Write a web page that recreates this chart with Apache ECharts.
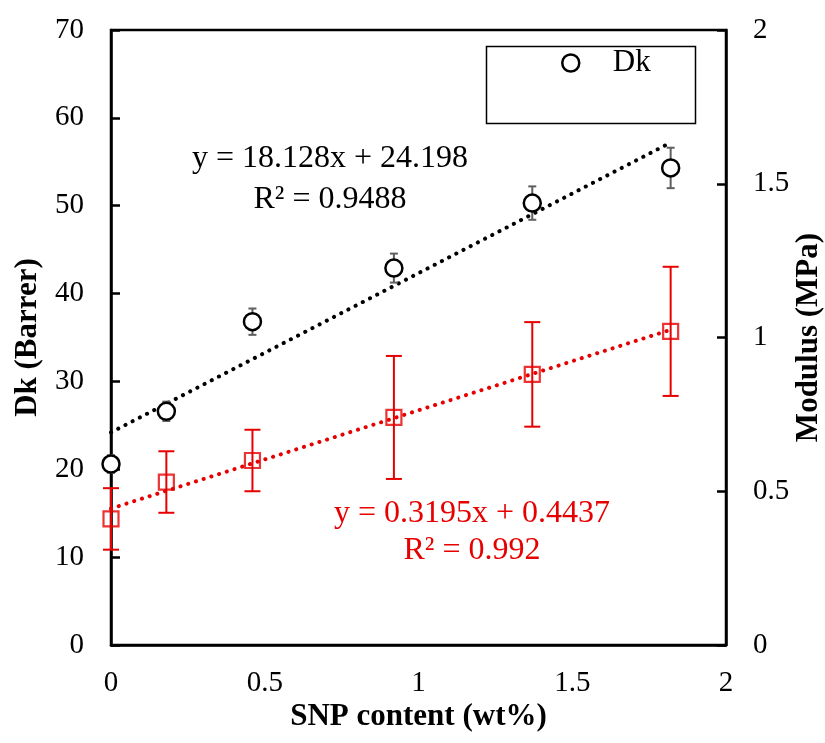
<!DOCTYPE html>
<html>
<head>
<meta charset="utf-8">
<script src="https://cdn.jsdelivr.net/npm/echarts@6/dist/echarts.min.js"></script>
<style>
  html, body { margin: 0; padding: 0; background: #fff; }
  #chart { width: 825px; height: 743px; }
</style>
</head>
<body>
<div id="chart"></div>
<script>
// SNP loading (wt%)
const snp = [0, 0.18, 0.46, 0.92, 1.37, 1.82];
// Oxygen permeability Dk (Barrer) and its standard deviation
const dk = [20.6, 26.6, 36.8, 42.9, 50.3, 54.3];
const dkErr = [1.0, 1.1, 1.5, 1.65, 1.9, 2.3];
// Tensile modulus (MPa) and its standard deviation
const modulus = [0.41, 0.53, 0.60, 0.74, 0.88, 1.02];
const modErr = [0.10, 0.10, 0.10, 0.20, 0.17, 0.21];
// Linear fits: [slope, intercept]
const dkFit = [18.128, 24.198];
const modFit = [0.3195, 0.4437];
const dkFitText = ['y = 18.128x + 24.198', 'R² = 0.9488'];
const modFitText = ['y = 0.3195x + 0.4437', 'R² = 0.992'];
// Axis tick values
const xTicks = [0, 0.5, 1, 1.5, 2];
const dkTicks = [0, 10, 20, 30, 40, 50, 60, 70];
const modTicks = [0, 0.5, 1, 1.5, 2];

const FONT = 'Liberation Serif';
const RED = '#e60000';
const GREY = '#5f5f5f';

const fitLine = (fit) => {
  const x0 = snp[0], x1 = snp[snp.length - 1];
  return [[x0, fit[1] + fit[0] * x0], [x1, fit[1] + fit[0] * x1]];
};

function errorBars(values, errs, yAxisIndex, color, capHalf) {
  return {
    type: 'custom',
    yAxisIndex: yAxisIndex,
    silent: true,
    z: 3,
    data: snp.map((x, i) => [x, values[i] - errs[i], values[i] + errs[i]]),
    renderItem: function (params, api) {
      const lo = api.coord([api.value(0), api.value(1)]);
      const hi = api.coord([api.value(0), api.value(2)]);
      const style = { stroke: color, lineWidth: 2, fill: null };
      return {
        type: 'group',
        children: [
          { type: 'line', shape: { x1: lo[0], y1: lo[1], x2: hi[0], y2: hi[1] }, style: style },
          { type: 'line', shape: { x1: lo[0] - capHalf, y1: lo[1], x2: lo[0] + capHalf, y2: lo[1] }, style: style },
          { type: 'line', shape: { x1: hi[0] - capHalf, y1: hi[1], x2: hi[0] + capHalf, y2: hi[1] }, style: style }
        ]
      };
    }
  };
}

const chart = echarts.init(document.getElementById('chart'), null, { renderer: 'canvas' });

const axisText = { fontFamily: FONT, fontSize: 29, color: '#000' };
const nameText = { fontFamily: FONT, fontSize: 31, fontWeight: 'bold', color: '#000' };

chart.setOption({
  animation: false,
  backgroundColor: '#fff',
  grid: {
    left: 111, right: 99, top: 30, bottom: 98,
    outerBoundsMode: 'none',
    containLabel: false,
    show: true, borderColor: '#000', borderWidth: 2.5, backgroundColor: 'transparent'
  },
  legend: {
    data: ['Dk'],
    left: 561,
    top: 47,
    padding: 0,
    itemWidth: 74,
    itemHeight: 17,
    itemGap: 5,
    textStyle: { fontFamily: FONT, fontSize: 31, color: '#000', lineHeight: 32 },
    itemStyle: { color: '#fff', borderColor: '#000', borderWidth: 2.5 }
  },
  graphic: [
    {
      type: 'rect', left: 484, top: 44, z: 10,
      shape: { width: 209, height: 77 },
      style: { fill: null, stroke: '#000', lineWidth: 1.5 }
    },
    {
      type: 'text', z: 10, x: 330, y: 138,
      style: { text: dkFitText[0] + '\n' + dkFitText[1], fill: '#000',
               font: '32px "' + FONT + '"', lineHeight: 41, align: 'center', verticalAlign: 'top' }
    },
    {
      type: 'text', z: 10, x: 472, y: 495,
      style: { text: modFitText[0] + '\n' + modFitText[1], fill: RED,
               font: '32px "' + FONT + '"', lineHeight: 37, align: 'center', verticalAlign: 'top' }
    }
  ],
  xAxis: {
    type: 'value',
    min: xTicks[0], max: xTicks[xTicks.length - 1], interval: 0.5,
    name: 'SNP content (wt%)',
    nameLocation: 'middle', nameGap: 56,
    nameMoveOverlap: false,
    nameTextStyle: nameText,
    axisLine: { show: true, lineStyle: { color: '#000', width: 2.5 } },
    axisTick: { show: false },
    axisLabel: Object.assign({ margin: 24, formatter: (v) => String(v) }, axisText),
    splitLine: { show: false }
  },
  yAxis: [
    {
      type: 'value',
      min: dkTicks[0], max: dkTicks[dkTicks.length - 1], interval: 10,
      name: 'Dk (Barrer)',
      nameLocation: 'middle', nameGap: 68,
      nameMoveOverlap: false,
      nameTextStyle: nameText,
      axisLine: { show: true, lineStyle: { color: '#000', width: 2.5 } },
      axisTick: { show: true, inside: true, length: 9, lineStyle: { color: '#000', width: 2.5 } },
      axisLabel: Object.assign({ margin: 27 }, axisText),
      splitLine: { show: false }
    },
    {
      type: 'value',
      position: 'right',
      min: modTicks[0], max: modTicks[modTicks.length - 1], interval: 0.5,
      name: 'Modulus (MPa)',
      nameLocation: 'middle', nameGap: 67,
      nameMoveOverlap: false,
      nameTextStyle: nameText,
      axisLine: { show: true, lineStyle: { color: '#000', width: 2.5 } },
      axisTick: { show: true, inside: true, length: 9, lineStyle: { color: '#000', width: 2.5 } },
      axisLabel: Object.assign({ margin: 27, formatter: (v) => String(v) }, axisText),
      splitLine: { show: false }
    }
  ],
  series: [
    {
      name: 'Dk fit', type: 'line', yAxisIndex: 0, data: fitLine(dkFit),
      symbol: 'none', silent: true, z: 2,
      lineStyle: { color: '#000', width: 4, type: [0.1, 8], cap: 'round' }
    },
    {
      name: 'Modulus fit', type: 'line', yAxisIndex: 1, data: fitLine(modFit),
      symbol: 'none', silent: true, z: 2,
      lineStyle: { color: RED, width: 4, type: [0.1, 8], cap: 'round' }
    },
    errorBars(dk, dkErr, 0, GREY, 4),
    errorBars(modulus, modErr, 1, RED, 8),
    {
      name: 'Dk', type: 'scatter', yAxisIndex: 0,
      data: snp.map((x, i) => [x, dk[i]]),
      symbol: 'circle', symbolSize: 17, z: 4,
      itemStyle: { color: '#fff', borderColor: '#000', borderWidth: 2.5, opacity: 1 }
    },
    {
      name: 'Modulus', type: 'scatter', yAxisIndex: 1,
      data: snp.map((x, i) => [x, modulus[i]]),
      symbol: 'rect', symbolSize: 15, z: 4,
      itemStyle: { color: 'rgba(255,255,255,0)', borderColor: RED, borderWidth: 2.2 }
    }
  ]
});
</script>
</body>
</html>
